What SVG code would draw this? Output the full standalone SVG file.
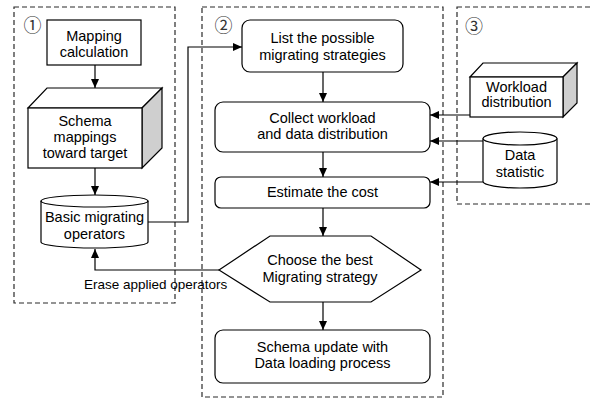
<svg xmlns="http://www.w3.org/2000/svg" width="590" height="398" viewBox="0 0 590 398">
<style>
.frame{fill:none;stroke:#2a2a2a;stroke-width:1.2;stroke-dasharray:5 3}
.box{fill:#fff;stroke:#000;stroke-width:1.2}
.side{fill:#cfcfcf;stroke:#000;stroke-width:1.2}
.t{font-family:"Liberation Sans",Arial,sans-serif;font-size:14.5px;fill:#000;text-anchor:middle}
.lbl{font-family:"Liberation Sans",Arial,sans-serif;font-size:13.5px;fill:#000}
.num{font-family:"Noto Sans CJK JP","DejaVu Sans",sans-serif;font-size:18px;fill:#333;text-anchor:middle}
.c{fill:none;stroke:#000;stroke-width:1.2}
</style>
<defs>
<marker id="ah" markerWidth="9" markerHeight="8" refX="9" refY="4" orient="auto" markerUnits="userSpaceOnUse">
<path d="M0,0 L9,4 L0,8 Z" fill="#000"/>
</marker>
</defs>
<g id="frames">
<rect class="frame" x="14" y="7" width="161" height="296"/>
<rect class="frame" x="202" y="7" width="241" height="390"/>
<rect class="frame" x="457" y="7" width="140" height="197"/>
<text class="num" x="32.5" y="32">①</text>
<text class="num" x="223.5" y="31.5">②</text>
<text class="num" x="474" y="33">③</text>
</g>
<g id="connectors">
<line class="c" x1="95" y1="65" x2="95" y2="88" marker-end="url(#ah)"/>
<line class="c" x1="95" y1="168" x2="95" y2="195" marker-end="url(#ah)"/>
<polyline class="c" points="148,222 188,222 188,47 242,47" marker-end="url(#ah)"/>
<polyline class="c" points="219,270 95,270 95,249" marker-end="url(#ah)"/>
<line class="c" x1="323" y1="72" x2="323" y2="102" marker-end="url(#ah)"/>
<line class="c" x1="323" y1="152" x2="323" y2="177" marker-end="url(#ah)"/>
<line class="c" x1="323" y1="208" x2="323" y2="236" marker-end="url(#ah)"/>
<line class="c" x1="323" y1="302" x2="323" y2="330" marker-end="url(#ah)"/>
<line class="c" x1="470" y1="115" x2="430" y2="115" marker-end="url(#ah)"/>
<line class="c" x1="483" y1="141" x2="430" y2="141" marker-end="url(#ah)"/>
<line class="c" x1="483" y1="182" x2="430" y2="182" marker-end="url(#ah)"/>
<text class="lbl" x="84" y="288.5">Erase applied operators</text>
</g>
<g id="mapping-calculation">
<rect class="box" x="47" y="20" width="94" height="45"/>
<text class="t" x="94" y="41">Mapping</text>
<text class="t" x="94" y="57">calculation</text>
</g>
<g id="schema-mappings">
<polygon class="box" points="28,108 47,88 162,88 142,108"/>
<polygon class="side" points="142,108 162,88 162,148 142,168"/>
<rect class="box" x="28" y="108" width="114" height="60"/>
<text class="t" x="85" y="126">Schema</text>
<text class="t" x="85" y="142">mappings</text>
<text class="t" x="85" y="158">toward target</text>
</g>
<g id="basic-operators">
<path class="box" d="M41,201 A53.5,6 0 0 1 148,201 L148,242 A53.5,6 0 0 1 41,242 Z"/>
<path class="c" d="M41,201 A53.5,6 0 0 0 148,201"/>
<text class="t" x="94.5" y="222">Basic migrating</text>
<text class="t" x="94.5" y="239">operators</text>
</g>
<g id="list-strategies">
<rect class="box" x="242" y="20" width="161" height="52" rx="8"/>
<text class="t" x="322.5" y="43">List the possible</text>
<text class="t" x="322.5" y="60">migrating strategies</text>
</g>
<g id="collect">
<rect class="box" x="215" y="102" width="215" height="50" rx="8"/>
<text class="t" x="322.5" y="123">Collect workload</text>
<text class="t" x="322.5" y="139">and data distribution</text>
</g>
<g id="estimate">
<rect class="box" x="215" y="177" width="215" height="31" rx="6"/>
<text class="t" x="322.5" y="197">Estimate the cost</text>
</g>
<g id="choose">
<polygon class="box" points="219,270 270,236 371,236 421,270 371,302 270,302"/>
<text class="t" x="320" y="265">Choose the best</text>
<text class="t" x="320" y="282">Migrating strategy</text>
</g>
<g id="schema-update">
<rect class="box" x="215" y="330" width="215" height="53" rx="8"/>
<text class="t" x="322.5" y="352">Schema update with</text>
<text class="t" x="322.5" y="368">Data loading process</text>
</g>
<g id="workload">
<polygon class="box" points="470,77 483,63 577,63 563,77"/>
<polygon class="side" points="563,77 577,63 577,103 563,117"/>
<rect class="box" x="470" y="77" width="93" height="40"/>
<text class="t" x="516.5" y="92">Workload</text>
<text class="t" x="516.5" y="107">distribution</text>
</g>
<g id="data-statistic">
<path class="box" d="M483,138.5 A37,6.5 0 0 1 557,138.5 L557,181.5 A37,6.5 0 0 1 483,181.5 Z"/>
<path class="c" d="M483,138.5 A37,6.5 0 0 0 557,138.5"/>
<text class="t" x="520" y="160">Data</text>
<text class="t" x="520" y="177">statistic</text>
</g>
</svg>
